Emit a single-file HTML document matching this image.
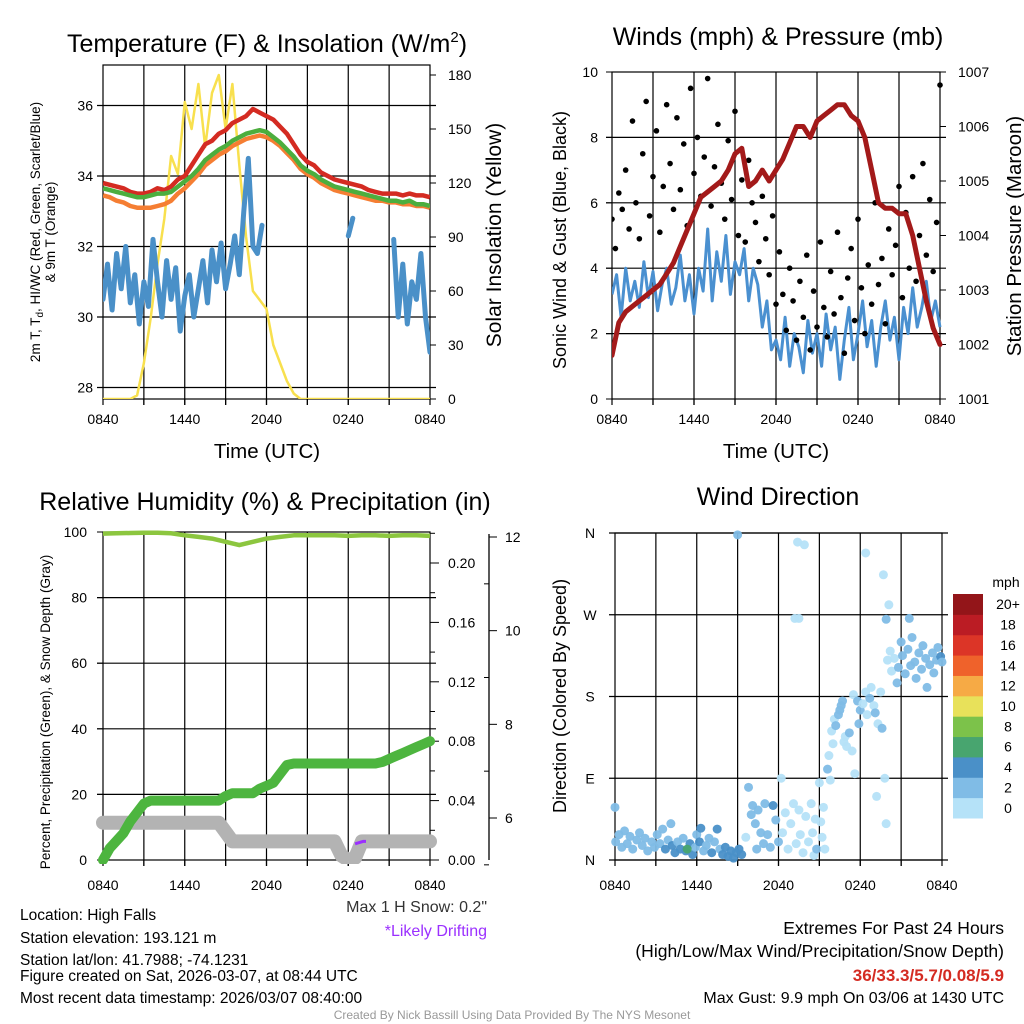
<!DOCTYPE html>
<html><head><meta charset="utf-8">
<style>
html,body{margin:0;padding:0;background:#fff;}
svg{display:block;font-family:"Liberation Sans",sans-serif;}
</style></head>
<body>
<svg id="chart" width="1024" height="1024" viewBox="0 0 1024 1024">
<g id="root"></g>
</svg>
<script>
// ---------- Panel 1 data (30-min steps from 0840 UTC) ----------
const tempRed = [33.8,33.75,33.7,33.65,33.55,33.5,33.5,33.55,33.65,33.6,33.7,33.9,34.0,34.3,34.6,34.9,35.0,35.2,35.3,35.5,35.6,35.7,35.9,35.8,35.7,35.6,35.4,35.2,34.9,34.6,34.4,34.3,34.1,34.0,33.9,33.85,33.8,33.75,33.7,33.6,33.55,33.5,33.5,33.5,33.45,33.5,33.45,33.45,33.4];
const tempGreen = [33.65,33.6,33.55,33.5,33.45,33.4,33.4,33.45,33.5,33.5,33.55,33.7,33.85,34.0,34.2,34.45,34.6,34.75,34.85,35.0,35.1,35.2,35.25,35.3,35.25,35.1,34.95,34.75,34.55,34.3,34.15,34.05,33.9,33.8,33.7,33.65,33.6,33.55,33.5,33.45,33.4,33.35,33.3,33.3,33.25,33.3,33.2,33.2,33.15];
const temp9m = [33.45,33.4,33.3,33.25,33.15,33.1,33.1,33.1,33.15,33.2,33.3,33.5,33.65,33.85,34.05,34.3,34.45,34.6,34.7,34.85,34.95,35.05,35.1,35.15,35.1,35.0,34.85,34.65,34.45,34.2,34.05,33.95,33.8,33.7,33.6,33.55,33.5,33.45,33.4,33.35,33.3,33.3,33.25,33.25,33.2,33.2,33.15,33.15,33.1];
// dewpoint, 20-min steps
const dewBlue = [30.5,31.5,30.2,31.8,30.8,32.0,30.4,31.2,29.8,31.0,30.3,32.2,31.0,30.0,31.6,30.5,31.4,29.6,30.6,31.2,30.0,30.8,31.6,30.4,31.9,31.0,32.1,30.8,31.5,32.3,31.2,33.0,34.5,32.0,31.8,32.6,
 null,null,null,null,null,null,null,null,null,null,null,null,null,null,null,null,null,null,32.3,32.8,
 null,null,null,null,null,null,null,null,32.2,30.0,31.5,29.8,31.0,30.5,31.8,30.0,29.0];
const solar = [0,0,0,0,0,2,20,45,75,100,135,125,165,150,175,140,170,180,150,175,130,90,60,55,50,30,20,10,3,0,0,0,0,0,0,0,0,0,0,0,0,0,0,0,0,0,0,0,0];
const p1LeftTicks = [28,30,32,34,36];
const p1RightTicks = [0,30,60,90,120,150,180];
const timeTickLabels = ["0840","1440","2040","0240","0840"];
// ---------- Panel 2 data ----------
const windSonic = [3.2,3.8,2.5,4.0,3.0,3.6,2.8,4.2,3.1,3.9,2.7,3.5,4.0,2.9,3.4,4.4,3.0,3.8,2.6,4.0,3.3,5.2,3.0,4.5,3.6,5.0,3.2,4.2,3.8,4.6,3.0,4.0,3.5,2.2,3.0,1.5,1.8,1.2,2.5,1.0,2.0,1.6,0.8,2.4,1.4,2.0,1.0,2.6,1.5,2.2,0.6,1.8,2.8,1.2,2.0,3.0,1.6,2.4,1.0,2.2,3.0,1.8,2.5,1.2,2.8,2.0,3.4,2.2,2.8,3.6,2.4,3.0,2.2];
const windGust = [5.5,4.6,6.3,5.8,7.0,5.2,8.5,6.0,4.9,7.5,9.1,5.6,6.8,8.2,5.1,6.5,9.0,7.2,5.8,8.6,6.4,7.8,5.3,9.5,6.9,8.0,6.2,7.4,9.8,5.9,7.1,8.4,6.6,5.5,7.9,6.1,8.8,5.0,6.7,4.8,7.3,6.0,5.4,4.2,6.2,4.9,3.8,5.6,2.9,4.5,3.2,2.1,4.0,3.0,1.8,3.6,2.5,4.4,1.5,3.3,2.2,4.8,2.8,1.9,3.9,2.6,5.1,3.1,1.4,3.7,4.6,2.4,5.5,3.4,2.0,4.1,2.9,6.0,3.5,4.3,2.3,5.2,3.8,4.7,6.5,3.1,5.7,4.0,6.8,3.6,5.0,7.2,4.4,6.1,3.9,5.4,9.6];
const pressure = [1001.8,1002.4,1002.6,1002.7,1002.8,1002.9,1003.0,1003.1,1003.3,1003.5,1003.8,1004.1,1004.4,1004.7,1004.8,1004.9,1005.0,1005.2,1005.5,1005.6,1004.9,1005.0,1005.2,1005.0,1005.2,1005.4,1005.7,1006.0,1006.0,1005.8,1006.1,1006.2,1006.3,1006.4,1006.4,1006.2,1006.1,1005.8,1005.2,1004.6,1004.5,1004.5,1004.4,1004.4,1004.0,1003.4,1002.8,1002.3,1002.0];
const p2LeftTicks = [0,2,4,6,8,10];
const p2RightTicks = [1001,1002,1003,1004,1005,1006,1007];
// ---------- Panel 3 data ----------
const rhHourly = [99.5,99.6,99.7,99.8,99.8,99.6,99,98.5,98,97,96,97,98,98.5,99,99,99,99,98.8,99,99,98.8,99,99,98.8];
const precip = [0,0.008,0.013,0.018,0.026,0.032,0.038,0.04,0.04,0.04,0.04,0.04,0.04,0.04,0.04,0.04,0.04,0.04,0.043,0.045,0.045,0.045,0.045,0.048,0.05,0.052,0.058,0.064,0.065,0.065,0.065,0.065,0.065,0.065,0.065,0.065,0.065,0.065,0.065,0.065,0.065,0.066,0.068,0.07,0.072,0.074,0.076,0.078,0.08];
const snowDepth = [5.9,5.9,5.9,5.9,5.9,5.9,5.9,5.9,5.9,5.9,5.9,5.9,5.9,5.9,5.9,5.9,5.9,5.9,5.7,5.5,5.5,5.5,5.5,5.5,5.5,5.5,5.5,5.5,5.5,5.5,5.5,5.5,5.5,5.5,5.5,5.2,5.1,5.15,5.5,5.5,5.5,5.5,5.5,5.5,5.5,5.5,5.5,5.5,5.5];
const drifting = [[18.5,5.45],[19.1,5.5],[19.3,5.5]];
const p3LeftTicks = [0,20,40,60,80,100];
const precipTicks = ["0.00","0.04","0.08","0.12","0.16","0.20"];
const snowTicks = [6,8,10,12];
// ---------- Panel 4 data: [hours since 0840, direction deg, speed mph] ----------
const windDirObs = [[0.0,58,2.5],[0.05,20,3],[0.3,28,2.5],[0.5,14,3.5],[0.7,32,2.5],[0.9,18,3],[1.1,26,2.5],[1.3,12,3.5],[1.6,22,3],[1.8,30,2.5],[2.0,16,3.5],[2.2,24,3],[2.4,10,3],[2.7,20,2.5],[2.9,14,3.5],[3.1,28,3],[3.3,18,3.5],[3.5,34,2.5],[3.7,12,4],[3.9,22,3],[4.1,40,2.5],[4.2,16,4.5],[4.4,8,4],[4.6,20,3.5],[4.8,12,4.5],[5.0,24,3],[5.2,10,4],[5.5,18,4],[5.7,6,4.5],[5.9,14,3.5],[6.0,28,2.5],[6.2,20,4],[6.3,35,4.5],[6.5,10,3.5],[6.7,16,2.5],[6.9,24,3],[7.1,8,4],[7.3,20,3],[7.5,34,4.5],[7.7,12,2.5],[7.9,6,4],[8.1,14,4.5],[8.3,4,4],[8.5,10,4],[8.7,2,4.5],[8.9,8,4],[9.1,12,4],[9.3,6,4],[5.3,12,6.5],
[9.0,358,3.5],
[9.6,25,0.5],[9.8,80,3],[10.0,50,2.5],[10.1,60,2.5],[10.3,40,2.5],[10.4,12,2],[10.5,55,3],[10.7,30,2.5],[10.9,18,3],[11.0,62,2.5],[11.2,28,2],[11.4,14,3],[11.6,60,4],[11.8,44,2],[12.0,20,3],[12.2,90,0.5],[12.3,30,0],[12.5,52,1],[12.7,12,1],[12.9,40,0],[13.1,62,0.5],[13.3,18,0],[13.5,55,1],[13.6,28,1],[13.8,8,0.5],[14.0,48,0.5],[14.2,20,0],[14.4,62,0.5],[14.5,30,1],[14.6,5,0],[14.7,45,0.5],[14.8,12,2.5],[15.0,85,0.5],[15.1,42,0.5],[15.2,25,0],[15.3,58,0],[15.4,12,1.5],
[13.4,350,0.5],[13.9,347,0],[13.2,266,0.5],[13.5,266,0],[18.4,338,0],[19.7,314,0],[20.1,281,0],[19.9,265,2.5],[21.6,266,3],
[15.6,100,3],[15.7,115,1],[15.8,88,1.5],[15.9,142,0],[16.0,128,1],[16.1,155,1.5],[16.2,148,3],[16.4,160,2],[16.5,165,2],[16.6,170,3],[16.7,175,3.5],[16.8,130,0],[16.9,136,0.5],[17.0,125,0.5],[17.2,140,2.5],[17.4,120,1],[17.5,182,1],[17.6,95,1],[17.8,175,3],[17.9,150,2],[18.0,165,2],[18.2,172,1],[18.4,185,1.5],[18.5,160,0],[18.7,178,2.5],[18.8,190,0.5],[19.0,170,0],[19.1,162,3],[19.2,70,0],[19.3,150,1],[19.5,185,1],[19.6,145,2],[19.8,90,0.5],[19.9,40,0],
[20.0,220,0.5],[20.2,230,0],[20.3,208,1.5],[20.5,222,1.5],[20.7,195,2.5],[20.8,212,3.5],[21.0,240,2.5],[21.1,225,3],[21.3,205,2],[21.5,232,3],[21.7,214,2],[21.8,245,2.5],[22.0,218,3],[22.1,200,2],[22.3,228,3.5],[22.5,210,2.5],[22.6,236,3],[22.8,222,2.5],[22.9,190,3],[23.1,215,3],[23.3,228,2.5],[23.4,206,2.5],[23.6,220,3],[23.7,234,2.5],[23.9,224,4],[24.0,218,3.5]];
const dirTickLabels = ["N","E","S","W","N"];
const speedBinLabels = ["0","2","4","6","8","10","12","14","16","18","20+"];
const speedColors = ["#b5e2f8","#80bce6","#4a90c8","#48a56f","#7cc24a","#e8e15a","#f6aa45","#ef622b","#dc3527","#bb1c24","#931519"];

// ---------- helpers ----------
const NS="http://www.w3.org/2000/svg";
const root=document.getElementById('root');
function mk(tag,attrs,parent){const e=document.createElementNS(NS,tag);for(const k in attrs)e.setAttribute(k,attrs[k]);(parent||root).appendChild(e);return e;}
function txt(s,x,y,size,anchor,parent,extra){const e=mk('text',Object.assign({x:x,y:y,'font-size':size,'text-anchor':anchor||'middle',fill:'#000'},extra||{}),parent);e.textContent=s;return e;}
function lin(d0,d1,r0,r1){return v=>r0+(v-d0)/(d1-d0)*(r1-r0);}
function pathFrom(xs,ys){let d='',pen=false;for(let i=0;i<xs.length;i++){if(ys[i]===null||ys[i]===undefined){pen=false;continue;}d+=(pen?'L':'M')+xs[i].toFixed(1)+','+ys[i].toFixed(1);pen=true;}return d;}

function frame(g,L,T,R,B,vgrid,hgridYs){
  const grid=mk('g',{},g);
  
  
  for(let i=1;i<vgrid;i++){const x=L+(R-L)*i/vgrid;mk('line',{x1:x,y1:T,x2:x,y2:B+6,stroke:'#000','stroke-width':1.2},grid);}
  hgridYs.forEach(y=>mk('line',{x1:L-6,y1:y,x2:R+6,y2:y,stroke:'#000','stroke-width':1.2},grid));
  const fr=mk('rect',{x:L,y:T,width:R-L,height:B-T,fill:'none',stroke:'#000','stroke-width':1.2},g);
  
  
  for(let i=0;i<=vgrid;i++){const x=L+(R-L)*i/vgrid;mk('line',{x1:x,y1:B,x2:x,y2:B+6,stroke:'#000','stroke-width':1.2},g);}
}
function xLabels(g,L,R,y){
  timeTickLabels.forEach((s,i)=>{const t=txt(s,L+(R-L)*i/4,y,14,'middle',g);
    
    });
}

// ================= PANEL 1 =================
(function(){
  const g=mk('g',{});
  
  
  const L=103,R=430,T=65,B=399;
  const x=lin(0,24,L,R), y=lin(28,36,387.5,105.5), ys=lin(0,180,399,75);
  frame(g,L,T,R,B,8,p1LeftTicks.map(y));
  p1LeftTicks.forEach(v=>{mk('line',{x1:L-6,y1:y(v),x2:L,y2:y(v),stroke:'#000'},g);const t=txt(String(v),L-10,y(v)+5,14,'end',g);
    });
  p1RightTicks.forEach(v=>{mk('line',{x1:R,y1:ys(v),x2:R+6,y2:ys(v),stroke:'#000'},g);const t=txt(String(v),R+18,ys(v)+5,14,'start',g);
    });
  const clip=mk('clipPath',{id:'c1'},g);mk('rect',{x:L,y:T,width:R-L,height:B-T},clip);
  const pg=mk('g',{'clip-path':'url(#c1)'},g);
  const x30=solar.map((_,i)=>x(i/2));
  const sol=mk('path',{d:pathFrom(x30,solar.map(ys)),fill:'none',stroke:'#f8e04e','stroke-width':2.5,'stroke-linejoin':'round'},pg);
  
  const x20=dewBlue.map((_,i)=>x(i/3));
  const dew=mk('path',{d:pathFrom(x20,dewBlue.map(v=>v===null?null:y(v))),fill:'none',stroke:'#4a90c8','stroke-width':5,'stroke-linejoin':'round','stroke-linecap':'round'},pg);
  
  const o=mk('path',{d:pathFrom(x30,temp9m.map(y)),fill:'none',stroke:'#f57e33','stroke-width':4.5,'stroke-linejoin':'round'},pg);
  
  const r=mk('path',{d:pathFrom(x30,tempRed.map(y)),fill:'none',stroke:'#d42b22','stroke-width':4.5,'stroke-linejoin':'round'},pg);
  
  const gr=mk('path',{d:pathFrom(x30,tempGreen.map(y)),fill:'none',stroke:'#4cae3e','stroke-width':4.5,'stroke-linejoin':'round'},pg);
  
  xLabels(g,L,R,424);
  const tt=mk('text',{x:267,y:52,'font-size':25,'text-anchor':'middle'},g);
  tt.innerHTML='Temperature (F) &amp; Insolation (W/m<tspan dy="-10" font-size="15">2</tspan><tspan dy="10">)</tspan>';
  
  const xl=txt('Time (UTC)',267,458,20.5,'middle',g);
  const yl=mk('text',{x:0,y:0,'font-size':13.5,'text-anchor':'middle',transform:'translate(40,232) rotate(-90)'},g);
  yl.innerHTML='2m T, T<tspan dy="3" font-size="10">d</tspan><tspan dy="-3">, HI/WC (Red, Green, Scarlet/Blue)</tspan>';
  
  const yl2=txt('& 9m T (Orange)',0,0,13.5,'middle',g,{transform:'translate(55,232) rotate(-90)'});
  
  const yr=txt('Solar Insolation (Yellow)',0,0,21,'middle',g,{transform:'translate(501,235) rotate(-90)'});
  
})();

// ================= PANEL 2 =================
(function(){
  const g=mk('g',{});
  
  
  const L=612,R=940,T=72,B=399;
  const x=lin(0,24,L,R), y=lin(0,10,B,T), yp=lin(1001,1007,B,T);
  frame(g,L,T,R,B,8,[2,4,6,8].map(y));
  p2LeftTicks.forEach(v=>{mk('line',{x1:L-6,y1:y(v),x2:L,y2:y(v),stroke:'#000'},g);const t=txt(String(v),L-14,y(v)+5,14,'end',g);
    });
  p2RightTicks.forEach(v=>{mk('line',{x1:R,y1:yp(v),x2:R+6,y2:yp(v),stroke:'#000'},g);const t=txt(String(v),R+18,yp(v)+5,14,'start',g);
    });
  const clip=mk('clipPath',{id:'c2'},g);mk('rect',{x:L,y:T-3,width:R-L+3,height:B-T+3},clip);
  const pg=mk('g',{'clip-path':'url(#c2)'},g);
  const w=mk('path',{d:pathFrom(windSonic.map((_,i)=>x(i/3)),windSonic.map(y)),fill:'none',stroke:'#4a90d0','stroke-width':3,'stroke-linejoin':'round'},pg);
  
  const dots=mk('g',{},pg);
  windGust.forEach((v,i)=>{const c=mk('circle',{cx:x(i/4),cy:y(v),r:2.8,fill:'#000'},dots);
    });
  const p=mk('path',{d:pathFrom(pressure.map((_,i)=>x(i/2)),pressure.map(yp)),fill:'none',stroke:'#a31a1a','stroke-width':5,'stroke-linejoin':'round','stroke-linecap':'round'},pg);
  
  xLabels(g,L,R,424);
  const tt=txt('Winds (mph) & Pressure (mb)',778,45,25,'middle',g);
  const xl=txt('Time (UTC)',776,458,20.5,'middle',g);
  const yl=txt('Sonic Wind & Gust (Blue, Black)',0,0,18,'middle',g,{transform:'translate(566,240) rotate(-90)'});
  
  const yr=txt('Station Pressure (Maroon)',0,0,20.5,'middle',g,{transform:'translate(1021,236) rotate(-90)'});
  
})();

// ================= PANEL 3 =================
(function(){
  const g=mk('g',{});
  
  
  const L=103,R=430,T=532,B=860;
  const x=lin(0,24,L,R), y=lin(0,100,B,T), yin=lin(0,0.20,B,563), ysn=lin(6,12,818,537);
  frame(g,L,T,R,B,8,[20,40,60,80].map(y));
  p3LeftTicks.forEach(v=>{mk('line',{x1:L-6,y1:y(v),x2:L,y2:y(v),stroke:'#000'},g);const t=txt(String(v),L-16,y(v)+5,14,'end',g);
    });
  precipTicks.forEach(s=>{const v=parseFloat(s);mk('line',{x1:R,y1:yin(v),x2:R+9,y2:yin(v),stroke:'#000'},g);
    mk('line',{x1:R,y1:yin(v+0.02),x2:R+5,y2:yin(v+0.02),stroke:'#000'},g);
    const t=txt(s,R+18,yin(v)+5,14,'start',g);});
  const sa=mk('line',{x1:489,y1:534,x2:489,y2:860,stroke:'#000','stroke-width':1.3},g);
  
  snowTicks.forEach(v=>{mk('line',{x1:489,y1:ysn(v),x2:497,y2:ysn(v),stroke:'#000'},g);
    if(v>6)mk('line',{x1:484,y1:ysn(v-1),x2:489,y2:ysn(v-1),stroke:'#000'},g);
    const t=txt(String(v),505,ysn(v)+5,14,'start',g);});
  mk('line',{x1:484,y1:ysn(5),x2:489,y2:ysn(5),stroke:'#000'},g);
  const clip=mk('clipPath',{id:'c3'},g);mk('rect',{x:L-8,y:T-4,width:R-L+16,height:B-T+8},clip);
  const pg=mk('g',{'clip-path':'url(#c3)'},g);
  const x30=snowDepth.map((_,i)=>x(i/2));
  const sn=mk('path',{d:pathFrom(x30,snowDepth.map(ysn)),fill:'none',stroke:'#b3b3b3','stroke-width':14,'stroke-linejoin':'round','stroke-linecap':'round'},pg);
  
  const dr=mk('path',{d:pathFrom(drifting.map(d=>x(d[0])),drifting.map(d=>ysn(d[1]))),fill:'none',stroke:'#9b30ff','stroke-width':3},pg);
  
  const pr=mk('path',{d:pathFrom(x30,precip.map(yin)),fill:'none',stroke:'#4db53f','stroke-width':10,'stroke-linejoin':'round','stroke-linecap':'round'},pg);
  
  const rh=mk('path',{d:pathFrom(rhHourly.map((_,i)=>x(i)),rhHourly.map(y)),fill:'none',stroke:'#8cc63f','stroke-width':4.5,'stroke-linejoin':'round'},pg);
  
  xLabels(g,L,R,890);
  const tt=txt('Relative Humidity (%) & Precipitation (in)',265,510,25,'middle',g);
  const yl=txt('Percent, Precipitation (Green), & Snow Depth (Gray)',0,0,13.5,'middle',g,{transform:'translate(50,712) rotate(-90)'});
  
})();

// ================= PANEL 4 =================
(function(){
  const g=mk('g',{});
  
  
  const L=615,R=942,T=533,B=860;
  const x=lin(0,24,L,R), y=lin(0,360,B,T);
  frame(g,L,T,R,B,8,[90,180,270].map(y));
  mk('line',{x1:L-6,y1:T,x2:R+6,y2:T,stroke:'#000','stroke-width':1.2},g);
  mk('line',{x1:L-6,y1:B,x2:R+6,y2:B,stroke:'#000','stroke-width':1.2},g);
  dirTickLabels.forEach((s,i)=>{const t=txt(s,590,y(i*90)+5,14,'middle',g);});
  const pts=mk('g',{},g);
  windDirObs.forEach(o=>{const bin=Math.min(10,Math.floor(o[2]/2));
    const c=mk('circle',{cx:x(o[0]),cy:y(o[1]),r:4.5,fill:speedColors[bin],'fill-opacity':0.95},pts);
    });
  xLabels(g,L,R,890);
  const tt=txt('Wind Direction',778,505,25,'middle',g);
  const yl=txt('Direction (Colored By Speed)',0,0,18,'middle',g,{transform:'translate(566,696) rotate(-90)'});
  
  const cb=mk('g',{},g);
  const h=(818-594)/speedColors.length;
  speedColors.forEach((c,i)=>{const r=mk('rect',{x:953,y:818-(i+1)*h,width:30,height:h+0.5,fill:c},cb);
    
    const t=txt(speedBinLabels[i],1008,818-(i+0.5)*h+5,14,'middle',cb);});
  const u=txt('mph',1006,587,14,'middle',cb);
})();

// ================= footer text =================
(function(){
  const g=mk('g',{});
  
  
  const lines=[["Location: High Falls",920],["Station elevation: 193.121 m",943],["Station lat/lon: 41.7988; -74.1231",965],["Figure created on Sat, 2026-03-07, at 08:44 UTC",981],["Most recent data timestamp: 2026/03/07 08:40:00",1003]];
  lines.forEach(l=>{const t=txt(l[0],20,l[1],15.5,'start',g);});
  const s1=txt('Max 1 H Snow: 0.2"',487,912,16,'end',g,{fill:'#333'});
  const s2=txt('*Likely Drifting',487,936,16,'end',g,{fill:'#9b30ff'});
  const e1=txt('Extremes For Past 24 Hours',1004,934,17.5,'end',g);
  const e2=txt('(High/Low/Max Wind/Precipitation/Snow Depth)',1004,957,17.5,'end',g);
  const e3=txt('36/33.3/5.7/0.08/5.9',1004,981,17,'end',g,{fill:'#d42b22','font-weight':'bold'});
  const e4=txt('Max Gust: 9.9 mph On 03/06 at 1430 UTC',1004,1003,16,'end',g);
  const f=txt('Created By Nick Bassill Using Data Provided By The NYS Mesonet',512,1019,12,'middle',g,{fill:'#999'});
})();
</script>
</body></html>
